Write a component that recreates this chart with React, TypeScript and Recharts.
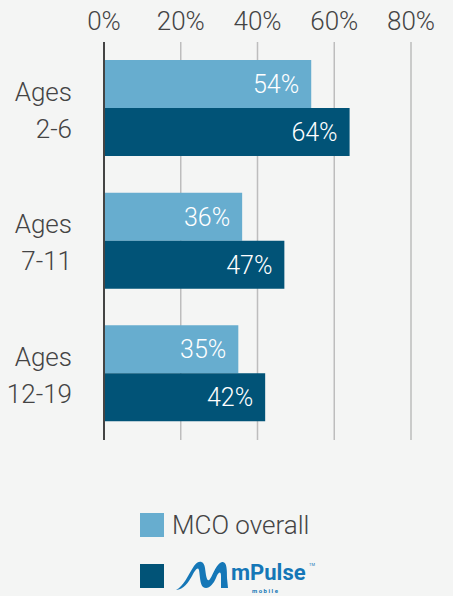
import React from "react";
import { BarChart, Bar, XAxis, YAxis, CartesianGrid, LabelList } from "recharts";

document.body.style.margin = "0";

const ageGroups = ["Ages|2-6", "Ages|7-11", "Ages|12-19"];
const mcoOverall = [54, 36, 35];
const mPulse = [64, 47, 42];
const xTicks = [0, 20, 40, 60, 80];

const data = ageGroups.map((g, i) => ({ group: g, mco: mcoOverall[i], mpulse: mPulse[i] }));

const FONT = "Roboto, 'Helvetica Neue', Arial, sans-serif";
const TEXT = "#444";
const LIGHT = "#67adcf";
const DARK = "#015377";
const BG = "#f4f5f4";

const CategoryTick = (props: any) => {
  const { x, y, payload } = props;
  const lines = String(payload.value).split("|");
  return (
    <g>
      {lines.map((l, i) => (
        <text
          key={i}
          x={x - 24}
          y={y + (i === 0 ? -17 : 20)}
          dy="0.36em"
          textAnchor="end"
          fill={TEXT}
          fontSize={26}
          fontWeight={300}
          fontFamily={FONT}
        >
          {l}
        </text>
      ))}
    </g>
  );
};

const PercentTick = (props: any) => {
  const { x, payload } = props;
  return (
    <text x={x} y={30} textAnchor="middle" fill={TEXT} fontSize={26} fontWeight={300} fontFamily={FONT}>
      {`${payload.value}%`}
    </text>
  );
};

const Logo = () => (
  <svg width={150} height={37} viewBox="0 0 150 37" style={{ display: "block" }}>
    <path
      d="M2 32 C10 28 14 17 20 8 C24 2 30 2 31 10 C32 18 33 25 36 21 C40 15 42 6 48 4 C53 3 53 12 53 20 L54 30 L47 30 L47 18 C47 12 44 14 42 20 C39 27 34 32 29 29 C26 26 26 18 25 12 C24 8 21 12 18 18 C14 25 10 31 2 32 Z"
      fill="#1577b7"
    />
    <text x={57} y={22} fill="#1577b7" fontSize={22} fontWeight={700} fontFamily={FONT}>
      mPulse
    </text>
    <text x={135} y={8} fill="#1577b7" fontSize={4} fontFamily={FONT}>
      TM
    </text>
    <text x={78} y={35} fill="#1577b7" fontSize={6} fontWeight={700} letterSpacing={1.5} fontFamily={FONT}>
      mobile
    </text>
  </svg>
);

const ChartLegend = () => (
  <>
    <div style={{ position: "absolute", top: 513, left: 140, width: 24, height: 24, background: LIGHT }} />
    <div
      style={{
        position: "absolute",
        top: 509,
        left: 172,
        fontFamily: FONT,
        color: TEXT,
        fontSize: 26,
        fontWeight: 300,
        lineHeight: "32px",
      }}
    >
      MCO overall
    </div>
    <div style={{ position: "absolute", top: 564, left: 140, width: 24, height: 24, background: DARK }} />
    <div style={{ position: "absolute", top: 558, left: 174 }}>
      <Logo />
    </div>
  </>
);

const valueLabel = {
  position: "insideRight" as const,
  offset: 12,
  formatter: (v: any) => `${v}%`,
  fill: "#fff",
  fontSize: 25,
  fontWeight: 300,
  fontFamily: FONT,
};

export default function App() {
  return (
    <div style={{ position: "relative", width: 453, height: 596, background: BG, overflow: "hidden" }}>
      <BarChart
        width={453}
        height={440}
        data={data}
        layout="vertical"
        margin={{ top: 6, right: 42, bottom: 0, left: 0 }}
        barCategoryGap={18}
        barGap={0}
      >
        <CartesianGrid horizontal={false} stroke="#bdbdbd" strokeWidth={1.5} />
        <XAxis
          type="number"
          orientation="top"
          domain={[0, 80]}
          ticks={xTicks}
          axisLine={false}
          tickLine={false}
          height={36}
          tick={<PercentTick />}
        />
        <YAxis
          type="category"
          dataKey="group"
          width={104}
          axisLine={{ stroke: "#444", strokeWidth: 2 }}
          tickLine={false}
          tick={<CategoryTick />}
        />
        <Bar dataKey="mco" name="MCO overall" fill={LIGHT} isAnimationActive={false}>
          <LabelList dataKey="mco" {...valueLabel} />
        </Bar>
        <Bar dataKey="mpulse" name="mPulse" fill={DARK} isAnimationActive={false}>
          <LabelList dataKey="mpulse" {...valueLabel} />
        </Bar>
      </BarChart>
      <ChartLegend />
    </div>
  );
}
